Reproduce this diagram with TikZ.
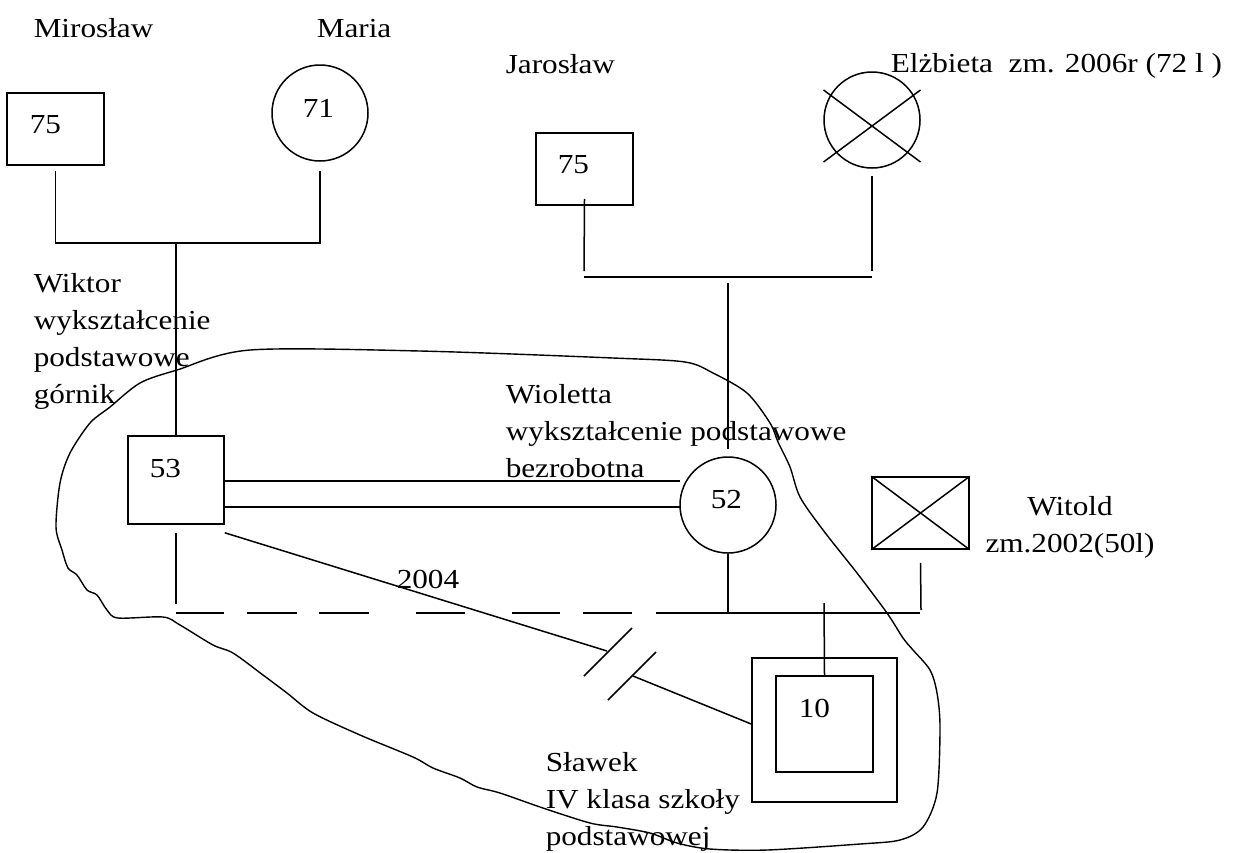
\documentclass[tikz,border=0pt]{standalone}
\usepackage{fontspec}
\setmainfont[FakeStretch=1.135]{Liberation Serif}
\usetikzlibrary{calc}

\begin{document}
\begin{tikzpicture}[x=0.5pt,y=-0.5pt,line width=0.75pt,
    every node/.style={font=\fontsize{13.75}{18.5}\selectfont},
    txt/.style={anchor=base west,inner sep=0pt,align=left},
    man/.style={draw,rectangle,minimum width=48.5pt,minimum height=36pt,inner sep=0pt},
    woman/.style={draw,circle,minimum size=48pt,inner sep=0pt}]
    \useasboundingbox (0,0) rectangle (1234,852);

    % grandparents
    \node[man] (mir) at (55.5,129) {}; \node[woman] (mar) at (320,113) {};
    \node[man] (jar) at (584.5,169) {}; \node[woman] (elz) at (872,120) {};
    \draw ($(elz.center)+(-48.5,-30)$) -- ($(elz.center)+(48.5,42)$); \draw ($(elz.center)+(-48.5,42)$) -- ($(elz.center)+(48.5,-30)$);

    % parents, children
    \node[man,minimum width=48pt,minimum height=44pt] (wik) at (176,480) {};
    \node[woman] (wio) at (728,505) {};
    \node[man] (wit) at (920.5,513) {};
    \draw (wit.north west) -- (wit.south east); \draw (wit.south west) -- (wit.north east);
    \node[man,minimum width=72.5pt,minimum height=72pt] (sla) at (824.5,730) {};
    \node[man,minimum width=48.5pt,minimum height=48pt] (sli) at (824.5,724) {};

    % ages
    \node[txt] (n75a) at (29,133) {75}; \node[txt] (n71) at (302,117) {71};
    \node[txt] (n75b) at (557,173) {75}; \node[txt] (n53) at (149,477) {53};
    \node[txt] (n52) at (710,508) {52}; \node[txt] (n10) at (798,717) {10};

    % names (base = last line)
    \node[txt] (lmir) at (33,37) {Mirosław}; \node[txt] (lmar) at (316,37) {Maria};
    \node[txt] (ljar) at (505,73) {Jarosław}; \node[txt] (lelz) at (890,72) {Elżbieta\ \ zm. 2006r (72 l )};
    \node[txt] (lwik) at (33,403) {Wiktor\\wykształcenie\\podstawowe\\górnik};
    \node[txt] (lwio) at (505,477) {Wioletta\\wykształcenie podstawowe\\bezrobotna};
    \node[txt,anchor=base,align=center] (lwit) at (1070,552) {Witold\\zm.2002(50l)};
    \node[txt] (l2004) at (396,588) {2004};
    \node[txt] (lsla) at (545,845) {Sławek\\IV klasa szkoły\\podstawowej};

    % lines
    \coordinate (p1) at (176,243);
    \draw ([yshift=-2.5pt]mir.south) |- (p1) -| ([yshift=-4.5pt]mar.south); \draw (p1) -- (wik.north);
    \coordinate (bj) at (584,277); \coordinate (be) at (872,277); \coordinate (pj) at (728,277);
    \draw ([yshift=3.5pt]jar.south) -- ([yshift=3pt]bj); \draw ([yshift=-3.5pt]elz.south) -- ([yshift=3pt]be);
    \draw (bj) -- (be); \draw ([yshift=-3pt]pj) -- ([yshift=3.5pt]wio.north);
    \coordinate (m1) at (680,481); \coordinate (m2) at (680,507);
    \draw (wik.east |- m1) -- (m1); \draw (wik.east |- m2) -- (m2);
    \coordinate (c0) at (176,613); \coordinate (cv) at (728,613); \coordinate (cw) at (921,613); \coordinate (cs) at (824,613);
    \draw ([yshift=-4pt]wik.south) -- ([yshift=4.5pt]c0);
    \foreach \a/\b in {176/224,247/297,319/369,416/465,512/560,583/632,656/920} \draw (\a,613) -- (\b,613);
    \draw (wio.south) -- (cv); \draw ([yshift=-6.5pt]wit.south) -- ([yshift=1.5pt]cw);
    \draw ([yshift=5pt]cs) -- (sli.north);
    \coordinate (d1) at (607,651); \coordinate (d2) at (633,676);
    \draw ([yshift=-4pt]wik.south east) -- (d1); \draw (d2) -- ([yshift=3pt]sla.west);
    \draw (584,676) -- (632,628); \draw (608,700) -- (656,652);

    % household
    \draw[line width=0.7pt] plot[smooth cycle,tension=0.5] coordinates {(177,370) (250,350) (420,351) (613,358) (685,362) (713,373) (747,393) (770,423) (778,442) (790,467) (800,497) (823,530) (857,573) (887,613) (903,638) (913,650) (930,670) (937,693) (940,727) (937,793) (923,827) (900,840) (860,844) (767,850) (710,849) (677,843) (650,833) (617,827) (590,823) (543,808) (500,793) (477,787) (460,778) (433,768) (413,757) (360,735) (313,713) (287,693) (263,675) (233,653) (213,645) (180,625) (163,617) (118,618) (107,610) (97,595) (87,590) (77,575) (68,568) (62,550) (56,527) (60,483) (70,453) (90,423) (110,407) (140,383)};
\end{tikzpicture}
\end{document}
